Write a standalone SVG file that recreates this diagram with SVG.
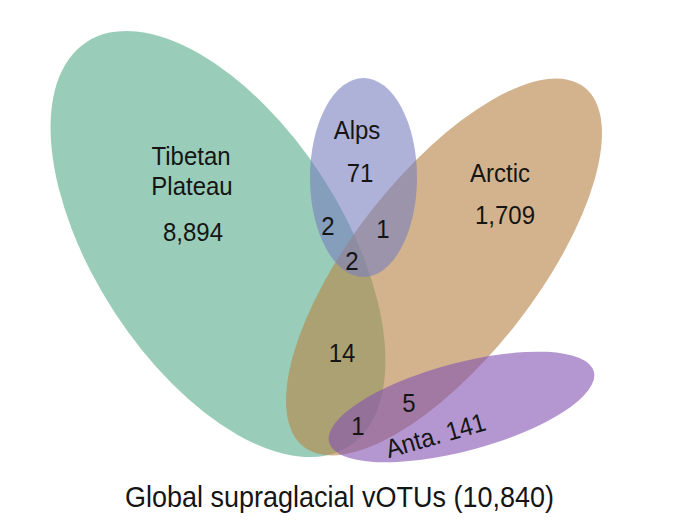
<svg xmlns="http://www.w3.org/2000/svg" width="699" height="528" viewBox="0 0 699 528">
  <style>
    .lbl { font-family: "Liberation Sans", Arial, Helvetica, sans-serif; font-size: 24px; fill: #151515; text-anchor: middle; }
    .title { font-family: "Liberation Sans", Arial, Helvetica, sans-serif; font-size: 27px; fill: #151515; text-anchor: middle; }
  </style>
  <rect x="0" y="0" width="699" height="528" fill="#ffffff"/>
  <g id="tibetan-plateau">
    <ellipse cx="218" cy="244" rx="241" ry="124" transform="rotate(57 218 244)" fill="#99cdb9"/>
  </g>
  <g id="arctic">
    <ellipse cx="444" cy="267" rx="228" ry="92" transform="rotate(-52 444 267)" fill="#b8874a" fill-opacity="0.63"/>
  </g>
  <g id="alps">
    <ellipse cx="363.5" cy="177.5" rx="53.5" ry="99.5" fill="#787fbe" fill-opacity="0.6"/>
  </g>
  <g id="antarctica">
    <ellipse cx="461.5" cy="407" rx="137" ry="44" transform="rotate(-15 461.5 407)" fill="#8252b1" fill-opacity="0.6"/>
  </g>
  <g id="labels-tibetan">
    <text class="lbl" transform="translate(191 165) scale(1 1.08)">Tibetan</text>
    <text class="lbl" transform="translate(192 195) scale(1 1.08)">Plateau</text>
    <text class="lbl" transform="translate(193 241) scale(1 1.08)">8,894</text>
  </g>
  <g id="labels-alps">
    <text class="lbl" transform="translate(357 139) scale(1 1.08)">Alps</text>
    <text class="lbl" transform="translate(360 182) scale(1 1.08)">71</text>
  </g>
  <g id="labels-arctic">
    <text class="lbl" transform="translate(500 182) scale(1 1.08)">Arctic</text>
    <text class="lbl" transform="translate(505 224) scale(1 1.08)">1,709</text>
  </g>
  <g id="labels-antarctica">
    <text class="lbl" transform="translate(438 444) rotate(-16) scale(1 1.08)">Anta. 141</text>
  </g>
  <g id="overlap-labels">
    <text class="lbl" transform="translate(328 235) scale(1 1.08)">2</text>
    <text class="lbl" transform="translate(383 238) scale(1 1.08)">1</text>
    <text class="lbl" transform="translate(352 270) scale(1 1.08)">2</text>
    <text class="lbl" transform="translate(342 362) scale(1 1.08)">14</text>
    <text class="lbl" transform="translate(409 412) scale(1 1.08)">5</text>
    <text class="lbl" transform="translate(358 435) scale(1 1.08)">1</text>
  </g>
  <g id="title">
    <text class="title" transform="translate(339.5 507) scale(1 1.1)">Global supraglacial vOTUs (10,840)</text>
  </g>
</svg>
